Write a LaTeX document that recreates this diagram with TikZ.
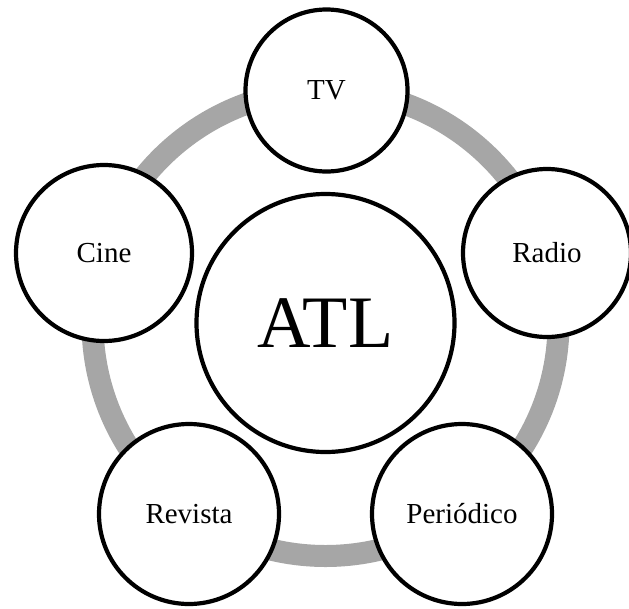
\documentclass[tikz,border=0pt]{standalone}
\usepackage{fontspec}
\setmainfont{Liberation Serif}
\definecolor{ringgray}{RGB}{166,166,166}
\begin{document}
\begin{tikzpicture}[x=1pt,y=-1pt,
  outer/.style={circle, draw=black, line width=4.2pt, fill=white, inner sep=0pt, font=\fontsize{29}{35}\selectfont},
  hub/.style={circle, draw=black, line width=4.2pt, fill=white, minimum size=258pt, inner sep=0pt, font=\fontsize{74}{88}\selectfont},
  ring/.style={draw=ringgray, line width=22pt}]
\useasboundingbox (0,0) rectangle (629,608);
\coordinate (O) at (325.5,323);
\path[ring] (O) circle (233);
\node[hub] (atl) at (O) {ATL};
\node[outer, minimum size=162pt] (tv) at (326.5,90.5) {TV};
\node[outer, minimum size=168pt] (radio) at (547,253) {Radio};
\node[outer, minimum size=176pt] (cine) at (104,253) {Cine};
\node[outer, minimum size=180pt] (periodico) at (462,514) {Periódico};
\node[outer, minimum size=180pt] (revista) at (189,514) {Revista};
\end{tikzpicture}
\end{document}
